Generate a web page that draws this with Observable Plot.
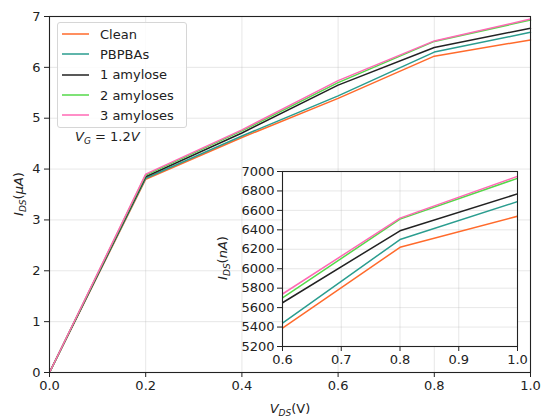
<!DOCTYPE html>
<html>
<head>
<meta charset="utf-8">
<script src="https://cdn.jsdelivr.net/npm/d3@7"></script>
<script src="https://cdn.jsdelivr.net/npm/@observablehq/plot@0.6"></script>
<style>
  body { margin: 0; background: #fff; }
  #wrap { position: relative; width: 541px; height: 416px; font-family: "DejaVu Sans", sans-serif; color: #222; }
  #wrap svg { position: absolute; }
  .lbl { position: absolute; font-size: 13px; white-space: nowrap; font-family: "DejaVu Sans", sans-serif; color: #222; }
  .lbl sub { font-size: 9px; vertical-align: -3px; line-height: 0; }
  #legend { position: absolute; left: 57px; top: 22px; width: 124px; height: 103px; border: 1px solid #d6d6d6; border-radius: 3px; background: rgba(255,255,255,0.85); padding: 1px 0 0 4px; box-sizing: content-box; }
  #legend .row { display: flex; align-items: center; height: 20.3px; font-size: 13px; }
  #legend svg { position: static; margin-right: 11px; }
</style>
</head>
<body>
<div id="wrap"></div>
<script>
// ---- data (I_DS in µA vs V_DS in V) ----
const vds = [0, 0.2, 0.4, 0.6, 0.8, 1.0];
const seriesNames = ["Clean", "PBPBAs", "1 amylose", "2 amyloses", "3 amyloses"];
const seriesColors = ["#ff6a2b", "#2a9d8f", "#222222", "#55d84a", "#ff69b4"];
const clean     = [0, 3.80, 4.62, 5.39, 6.22, 6.54];
const pbpbas    = [0, 3.82, 4.65, 5.44, 6.30, 6.69];
const amylose1  = [0, 3.85, 4.71, 5.65, 6.39, 6.77];
const amylose2  = [0, 3.88, 4.75, 5.70, 6.51, 6.93];
const amylose3  = [0, 3.90, 4.77, 5.74, 6.52, 6.95];
const mainYTicks = [0, 1, 2, 3, 4, 5, 6, 7];
const mainXTicks = [0, 0.2, 0.4, 0.6, 0.8, 1.0];
const insetXTicks = [0.6, 0.7, 0.8, 0.9, 1.0];
const insetYTicks = [5200, 5400, 5600, 5800, 6000, 6200, 6400, 6600, 6800, 7000];

const allSeries = [clean, pbpbas, amylose1, amylose2, amylose3];
const rows = allSeries.map((vals, i) => vals.map((v, j) => ({series: seriesNames[i], x: vds[j], uA: v, nA: v * 1000})));

const wrap = document.getElementById("wrap");
const gridStyle = {stroke: "#b0b0b0", strokeOpacity: 0.3, strokeWidth: 1};
const baseStyle = {fontFamily: "DejaVu Sans", fontSize: "13px", color: "#222", background: "transparent", overflow: "visible"};

// ---- main plot ----
const main = Plot.plot({
  width: 541, height: 416,
  marginLeft: 49, marginRight: 11, marginTop: 16, marginBottom: 44,
  style: baseStyle,
  x: {domain: [0, 1]},
  y: {domain: [0, 7]},
  marks: [
    Plot.gridX(mainXTicks, gridStyle),
    Plot.gridY(mainYTicks, gridStyle),
    ...rows.map((r, i) => Plot.line(r, {x: "x", y: "uA", stroke: seriesColors[i], strokeWidth: 1.5})),
    Plot.frame({stroke: "#222", strokeWidth: 1.1}),
    Plot.axisX(mainXTicks, {tickSize: 5, tickPadding: 3, tickFormat: d3.format(".1f"), label: null, stroke: "#222"}),
    Plot.axisY(mainYTicks, {tickSize: 5, tickPadding: 4, tickFormat: d3.format("d"), label: null, stroke: "#222"})
  ]
});
main.style.left = "0px"; main.style.top = "0px";
wrap.appendChild(main);

// ---- inset plot ----
const inset = Plot.plot({
  width: 305, height: 213,
  marginLeft: 60, marginRight: 10, marginTop: 10, marginBottom: 28,
  style: baseStyle,
  x: {domain: [0.6, 1.0]},
  y: {domain: [5200, 7000]},
  marks: [
    Plot.frame({fill: "white", stroke: null}),
    Plot.gridX(insetXTicks, gridStyle),
    Plot.gridY(insetYTicks, gridStyle),
    ...rows.map((r, i) => Plot.line(r.filter(d => d.x >= 0.6), {x: "x", y: "nA", stroke: seriesColors[i], strokeWidth: 1.5, clip: true})),
    Plot.frame({stroke: "#222", strokeWidth: 1.1}),
    Plot.axisX(insetXTicks, {tickSize: 5, tickPadding: 3, tickFormat: d3.format(".1f"), label: null, stroke: "#222"}),
    Plot.axisY(insetYTicks, {tickSize: 5, tickPadding: 3, tickFormat: d3.format("d"), label: null, stroke: "#222"})
  ]
});
inset.style.left = "222px"; inset.style.top = "161px";
wrap.appendChild(inset);

// ---- legend ----
const legend = document.createElement("div");
legend.id = "legend";
seriesNames.forEach((name, i) => {
  const row = document.createElement("div");
  row.className = "row";
  row.innerHTML = `<svg width="27" height="4"><line x1="0" x2="27" y1="2" y2="2" stroke="${seriesColors[i]}" stroke-width="1.5"/></svg><span>${name}</span>`;
  legend.appendChild(row);
});
wrap.appendChild(legend);

// ---- text labels ----
function addLabel(html, cx, cy, rotate) {
  const d = document.createElement("div");
  d.className = "lbl";
  d.innerHTML = html;
  d.style.left = cx + "px"; d.style.top = cy + "px";
  d.style.transform = `translate(-50%,-50%)` + (rotate ? ` rotate(-90deg)` : "");
  wrap.appendChild(d);
}
addLabel(`<i>I</i><sub><i>DS</i></sub>(<i>μA</i>)`, 18, 194, true);
addLabel(`<i>V</i><sub><i>DS</i></sub>(V)`, 290, 408, false);
addLabel(`<i>I</i><sub><i>DS</i></sub>(<i>nA</i>)`, 222, 258, true);
const vg = document.createElement("div");
vg.className = "lbl";
vg.innerHTML = `<i>V</i><sub><i>G</i></sub> = 1.2<i>V</i>`;
vg.style.left = "75px"; vg.style.top = "129px";
wrap.appendChild(vg);
</script>
</body>
</html>
